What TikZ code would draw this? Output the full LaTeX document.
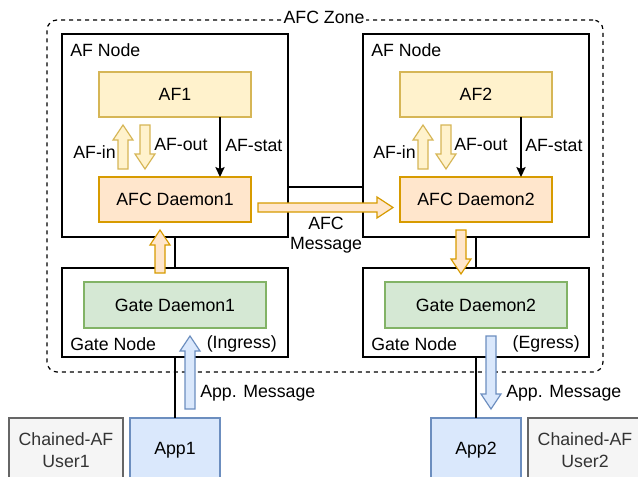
\documentclass[tikz,border=0pt]{standalone}
\usepackage{fontspec}
\setmainfont{Liberation Sans}
\usetikzlibrary{arrows.meta}
\definecolor{yfill}{HTML}{FFF2CC}\definecolor{ydraw}{HTML}{D6B656}
\definecolor{ofill}{HTML}{FFE6CC}\definecolor{odraw}{HTML}{D79B00}
\definecolor{gfill}{HTML}{D5E8D4}\definecolor{gdraw}{HTML}{82B366}
\definecolor{bfill}{HTML}{DAE8FC}\definecolor{bdraw}{HTML}{6C8EBF}
\definecolor{kfill}{HTML}{F5F5F5}\definecolor{kdraw}{HTML}{666666}\definecolor{ktext}{HTML}{333333}
\tikzset{
  every node/.style={font=\fontsize{13.3}{16.5}\selectfont},
  box/.style={draw, line width=1pt, inner sep=0pt, outer sep=0pt},
  hostbox/.style={box, fill=white},
  afbox/.style={box, fill=yfill, draw=ydraw},
  daebox/.style={box, fill=ofill, draw=odraw},
  gatebox/.style={box, fill=gfill, draw=gdraw},
  appbox/.style={box, fill=bfill, draw=bdraw},
  userbox/.style={box, fill=kfill, draw=kdraw, text=ktext, align=center},
  zonebox/.style={draw, line width=0.9pt, dash pattern=on 3pt off 3pt, rounded corners=7.5pt, inner sep=0pt},
  yarr/.style={draw=ydraw, fill=yfill, line width=0.9pt, line join=miter},
  oarr/.style={draw=odraw, fill=ofill, line width=0.9pt, line join=miter},
  barr/.style={draw=bdraw, fill=bfill, line width=0.9pt, line join=miter},
  lbl/.style={inner sep=0pt},
  conn/.style={line width=0.9pt},
}
\newcommand\varr[4]{%
  \pgfmathsetmacro\myhb{#4+15*sign(#3-#4)}%
  \draw[#1] ({#2-5},#3) -- ({#2-5},\myhb) -- ({#2-10},\myhb) -- (#2,#4) -- ({#2+10},\myhb) -- ({#2+5},\myhb) -- ({#2+5},#3) -- cycle;}
\begin{document}
\begin{tikzpicture}[x=0.75pt,y=-0.75pt]
\useasboundingbox (0,0) rectangle (638,476);
\clip (0,0) rectangle (638,476);
% zone
\node[zonebox, minimum width=556*0.75pt, minimum height=352*0.75pt] (zone) at (325,196) {};
\node[fill=white, inner sep=1pt] (zonelbl) at (324,17) {AFC Zone};
% AF nodes
\node[hostbox, minimum width=226*0.75pt, minimum height=203*0.75pt] (afn1) at (175,135.5) {};
\node[hostbox, minimum width=226*0.75pt, minimum height=203*0.75pt] (afn2) at (476,135.5) {};
\node[lbl, anchor=west] (afn1l) at (70,50) {AF Node};
\node[lbl, anchor=west] (afn2l) at (371,50) {AF Node};
\node[afbox, minimum width=152*0.75pt, minimum height=45*0.75pt] (af1) at (175,94.5) {AF1};
\node[afbox, minimum width=152*0.75pt, minimum height=45*0.75pt] (af2) at (476,94.5) {AF2};
\node[daebox, minimum width=152*0.75pt, minimum height=45*0.75pt] (dae1) at (175,199.5) {AFC Daemon1};
\node[daebox, minimum width=152*0.75pt, minimum height=45*0.75pt] (dae2) at (476,199.5) {AFC Daemon2};
% Gate nodes
\node[hostbox, minimum width=226*0.75pt, minimum height=89*0.75pt] (gn1) at (175,312.5) {};
\node[hostbox, minimum width=226*0.75pt, minimum height=89*0.75pt] (gn2) at (476,312.5) {};
\node[gatebox, minimum width=182*0.75pt, minimum height=46*0.75pt] (gd1) at (175,305) {Gate Daemon1};
\node[gatebox, minimum width=182*0.75pt, minimum height=46*0.75pt] (gd2) at (476,305) {Gate Daemon2};
\node[lbl, anchor=west] (gn1l) at (70,344) {Gate Node};
\node[lbl, anchor=east] (gn1r) at (277,344) {(Ingress)};
\node[lbl, anchor=west] (gn2l) at (371,344) {Gate Node};
\node[lbl, anchor=east] (gn2r) at (580,344) {(Egress)};
% Apps and users
\node[appbox, minimum width=90*0.75pt, minimum height=64*0.75pt] (app1) at (175,450) {App1};
\node[appbox, minimum width=90*0.75pt, minimum height=64*0.75pt] (app2) at (476,450) {App2};
\node[userbox, minimum width=114*0.75pt, minimum height=64*0.75pt] (user1) at (66,450) {Chained-AF\\User1};
\node[userbox, minimum width=114*0.75pt, minimum height=64*0.75pt] (user2) at (585,450) {Chained-AF\\User2};
% plain connectors
\coordinate (mid) at (0,187);
\draw[conn] (afn1.east |- mid) -- (afn2.west |- mid);
\draw[conn] (afn1.south) -- (gn1.north);
\draw[conn] (afn2.south) -- (gn2.north);
\draw[conn] (gn1.south) -- (app1.north);
\draw[conn] (gn2.south) -- (app2.north);
% AF-stat
\coordinate (st1) at (220,0);
\coordinate (st2) at (521,0);
\draw[conn, -{Stealth[length=7.5pt, width=7pt, inset=1.5pt]}] (af1.south -| st1) -- (dae1.north -| st1);
\draw[conn, -{Stealth[length=7.5pt, width=7pt, inset=1.5pt]}] (af2.south -| st2) -- (dae2.north -| st2);
\node[lbl, anchor=west] (stat1) at (225,145) {AF-stat};
\node[lbl, anchor=west] (stat2) at (525,145) {AF-stat};
% AF-in / AF-out
\varr{yarr}{123}{169}{125}
\varr{yarr}{145}{125}{169}
\varr{yarr}{423}{169}{125}
\varr{yarr}{446}{125}{169}
\node[lbl, anchor=east] (in1) at (116,152) {AF-in};
\node[lbl, anchor=west] (out1) at (154,144) {AF-out};
\node[lbl, anchor=east] (in2) at (416,152) {AF-in};
\node[lbl, anchor=west] (out2) at (454,144) {AF-out};
% AFC message
\draw[oarr] (258,203) -- (377,203) -- (377,197) -- (393,207.5) -- (377,218) -- (377,212) -- (258,212) -- cycle;
\node[align=center, inner sep=0pt] (afcmsg) at (326,235) {AFC\\[-2pt]Message};
% daemon <-> gate
\varr{oarr}{160}{273}{230}
\varr{oarr}{461}{230}{274}
% app messages
\varr{barr}{190}{409}{336}
\varr{barr}{491}{336}{409}
\node[lbl, anchor=west] (am1) at (200,393) {App. Message};
\node[lbl, anchor=west] (am2) at (506,393) {App. Message};
\end{tikzpicture}
\end{document}
